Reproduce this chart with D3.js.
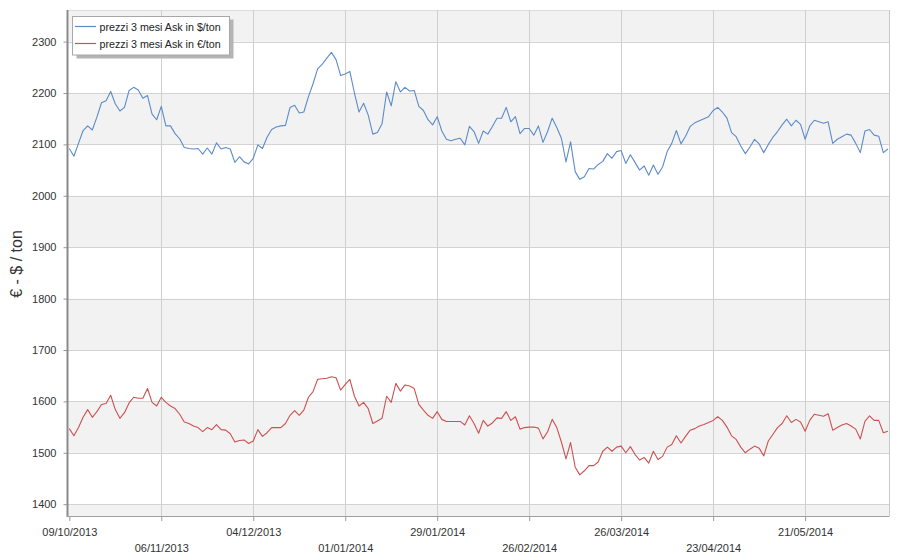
<!DOCTYPE html>
<html><head><meta charset="utf-8">
<script src="https://cdn.jsdelivr.net/npm/d3@7/dist/d3.min.js"></script>
<style>
html,body{margin:0;padding:0;background:#fff;}
svg{display:block;font-family:"Liberation Sans",Arial,sans-serif;}
</style></head>
<body>
<svg id="chart" width="900" height="560"></svg>
<script>
// ---- data ----
const tickLabels = ["09/10/2013","06/11/2013","04/12/2013","01/01/2014","29/01/2014","26/02/2014","26/03/2014","23/04/2014","21/05/2014"];
const tickEvery = 20; // one label every 20 trading days
const seriesNames = ["prezzi 3 mesi Ask in $/ton","prezzi 3 mesi Ask in €/ton"];
const usdValues = [2092,2077,2102,2127,2136,2128,2153,2181,2185,2203,2179,2165,2172,2205,2211,2206,2190,2195,2159,2148,
2174,2136,2136,2121,2111,2094,2092,2091,2092,2081,2093,2081,2103,2091,2094,2091,2065,2076,2066,2062,
2073,2099,2092,2114,2129,2134,2136,2137,2172,2176,2161,2163,2193,2218,2247,2256,2268,2279,2265,2234,
2237,2242,2200,2163,2180,2157,2120,2123,2140,2202,2175,2222,2202,2211,2204,2205,2174,2166,2148,2138,
2154,2126,2110,2107,2110,2112,2099,2135,2125,2102,2126,2120,2135,2151,2151,2172,2144,2154,2121,2131,
2131,2118,2136,2104,2125,2151,2133,2112,2066,2105,2047,2032,2037,2053,2052,2061,2067,2082,2073,2086,
2088,2063,2080,2065,2050,2058,2040,2060,2042,2056,2086,2102,2127,2101,2116,2135,2142,2146,2150,2154,
2166,2172,2163,2151,2123,2115,2097,2082,2095,2110,2101,2084,2100,2114,2125,2138,2149,2136,2147,2139,
2110,2136,2147,2144,2141,2144,2102,2110,2115,2120,2118,2102,2084,2126,2129,2118,2116,2084,2091];
const eurValues = [1547,1533,1549,1569,1584,1569,1580,1594,1596,1612,1584,1567,1578,1597,1608,1606,1606,1625,1598,1591,
1608,1598,1591,1586,1575,1560,1557,1552,1549,1541,1549,1545,1555,1545,1544,1537,1521,1524,1525,1518,
1523,1545,1532,1539,1549,1549,1549,1557,1573,1582,1573,1583,1608,1619,1643,1644,1645,1648,1646,1622,
1633,1643,1610,1591,1598,1586,1557,1562,1567,1610,1598,1635,1620,1632,1630,1625,1594,1583,1573,1567,
1580,1565,1561,1561,1561,1561,1554,1572,1557,1538,1563,1552,1558,1568,1567,1580,1563,1570,1546,1549,
1550,1550,1548,1527,1541,1565,1549,1521,1488,1520,1472,1457,1465,1475,1475,1482,1503,1511,1503,1511,
1513,1500,1512,1497,1486,1491,1480,1503,1487,1493,1511,1516,1533,1519,1532,1544,1547,1552,1555,1559,
1563,1570,1563,1550,1533,1526,1511,1500,1507,1513,1509,1494,1523,1536,1549,1557,1572,1559,1565,1560,
1542,1563,1575,1573,1571,1576,1544,1549,1554,1557,1552,1546,1527,1561,1572,1563,1563,1539,1542];
const yTicks = [1400,1500,1600,1700,1800,1900,2000,2100,2200,2300];
const yAxisTitle = "€ - $ / ton";

// ---- layout ----
const L = 68.5, R = 889.3, T = 10, B = 516;
const colors = ["#5b8bc9","#cc5150"];
const svg = d3.select("#chart");

const x = d3.scaleLinear().domain([0, 178.3]).range([69.3, R]);
const y = d3.scaleLinear().domain([1377, 2361.5]).range([B, T]);

// bands
const bandEdges = d3.range(1300, 2500, 100);
const bands = bandEdges.filter(v => (v/100) % 2 === 1); // 1300,1500,...
svg.append("g").selectAll("rect").data(bands).join("rect")
  .attr("x", L).attr("width", R - L)
  .attr("y", d => Math.max(T, y(d + 100)))
  .attr("height", d => Math.min(B, y(d)) - Math.max(T, y(d + 100)))
  .attr("fill", "#f2f2f2");

// horizontal grid
svg.append("g").selectAll("line").data(yTicks).join("line")
  .attr("x1", L).attr("x2", R)
  .attr("y1", d => Math.round(y(d)) + 0.5).attr("y2", d => Math.round(y(d)) + 0.5)
  .attr("stroke", "#d3d3d3").attr("stroke-width", 1);
// top border
svg.append("line").attr("x1", L).attr("x2", R).attr("y1", T + 0.5).attr("y2", T + 0.5)
  .attr("stroke", "#dcdcdc");

// vertical grid
const xTickIdx = tickLabels.map((d, i) => i * tickEvery);
svg.append("g").selectAll("line").data(xTickIdx.slice(1)).join("line")
  .attr("x1", d => Math.round(x(d)) + 0.5).attr("x2", d => Math.round(x(d)) + 0.5)
  .attr("y1", T).attr("y2", B)
  .attr("stroke", "#cfcfcf");
// right border
svg.append("line").attr("x1", Math.round(R) + 0.5).attr("x2", Math.round(R) + 0.5)
  .attr("y1", T).attr("y2", B).attr("stroke", "#c8c8c8");

// y axis
const yAxis = d3.axisLeft(y).tickValues(yTicks).tickSize(5).tickPadding(7).tickFormat(d3.format("d"));
const gy = svg.append("g").attr("transform", `translate(${L},0)`).call(yAxis);
gy.select(".domain").remove();
gy.selectAll(".tick line").attr("stroke", "#999");
gy.selectAll(".tick text").attr("fill", "#333").style("font-size", "11px")
  .style("font-family", '"Liberation Sans",Arial,sans-serif');
svg.append("line").attr("x1", 67.5).attr("x2", 67.5).attr("y1", T).attr("y2", B + 0.5)
  .attr("stroke", "#8a8a8a").attr("stroke-width", 2);

// x axis
const xAxis = d3.axisBottom(x).tickValues(xTickIdx).tickSize(5)
  .tickFormat((d, i) => tickLabels[i]);
const gx = svg.append("g").attr("transform", `translate(0,${B})`).call(xAxis);
gx.select(".domain").remove();
gx.selectAll(".tick line").attr("stroke", "#999");
gx.selectAll(".tick text").attr("fill", "#333").style("font-size", "11px")
  .style("font-family", '"Liberation Sans",Arial,sans-serif')
  .attr("y", (d, i) => i % 2 === 0 ? 20 : 35.5).attr("dy", 0);
svg.append("line").attr("x1", 66.5).attr("x2", R).attr("y1", B + 0.5).attr("y2", B + 0.5)
  .attr("stroke", "#a0a0a0");

// y axis title
svg.append("text").attr("transform", "translate(22,264) rotate(-90)")
  .attr("text-anchor", "middle").attr("fill", "#333")
  .style("font-size", "16px").text(yAxisTitle);

// lines
const line = d3.line().x((d, i) => x(i)).y(d => y(d));
[usdValues, eurValues].forEach((vals, k) => {
  svg.append("path").datum(vals).attr("d", line)
    .attr("fill", "none").attr("stroke", colors[k]).attr("stroke-width", 1.1)
    .attr("stroke-linejoin", "round");
});

// legend
const lg = svg.append("g");
lg.append("rect").attr("x", 76.5).attr("y", 19.5).attr("width", 157).attr("height", 39).attr("fill", "#b5b5b5");
lg.append("rect").attr("x", 72.5).attr("y", 16.5).attr("width", 157).attr("height", 38.5)
  .attr("fill", "#fff").attr("stroke", "#a8a8a8");
seriesNames.forEach((n, k) => {
  const yy = 26.5 + k * 17;
  lg.append("line").attr("x1", 75).attr("x2", 96).attr("y1", yy).attr("y2", yy)
    .attr("stroke", colors[k]).attr("stroke-width", 1.2);
  lg.append("text").attr("x", 99.5).attr("y", yy + 4).attr("fill", "#222")
    .style("font-size", "10.7px").text(n);
});
</script>
</body></html>
